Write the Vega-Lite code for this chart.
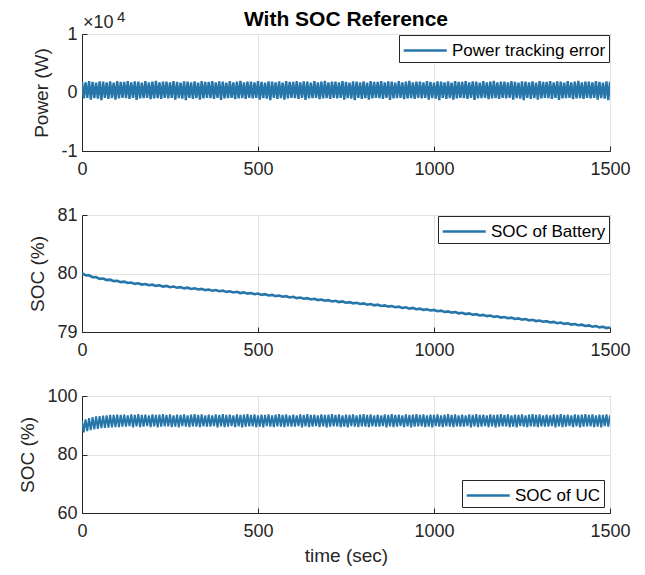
{
"$schema": "https://vega.github.io/schema/vega-lite/v6.json",
"background": "white",
"padding": {"left": 18, "top": 8, "right": 10, "bottom": 5},
"spacing": 64,
"bounds": "flush",
"datasets": {
"power": [{"t":0,"p":1850},{"t":5,"p":-1000},{"t":10,"p":1750},{"t":15,"p":-900},{"t":20,"p":1950},{"t":25,"p":-1200},{"t":30,"p":1800},{"t":35,"p":-950},{"t":40,"p":1700},{"t":45,"p":-1050},{"t":50,"p":1900},{"t":55,"p":-1300},{"t":60,"p":1850},{"t":65,"p":-900},{"t":70,"p":1750},{"t":75,"p":-1100},{"t":80,"p":1900},{"t":85,"p":-950},{"t":90,"p":1700},{"t":95,"p":-1200},{"t":100,"p":1950},{"t":105,"p":-1000},{"t":110,"p":1800},{"t":115,"p":-900},
{"t":120,"p":1800},{"t":125,"p":-950},{"t":130,"p":1950},{"t":135,"p":-1100},{"t":140,"p":1750},{"t":145,"p":-900},{"t":150,"p":1900},{"t":155,"p":-1250},{"t":160,"p":1850},{"t":165,"p":-1000},{"t":170,"p":1700},{"t":175,"p":-950},{"t":180,"p":1950},{"t":185,"p":-900},{"t":190,"p":1750},{"t":195,"p":-1150},{"t":200,"p":1850},{"t":205,"p":-1000},{"t":210,"p":2000},{"t":215,"p":-950},{"t":220,"p":1750},{"t":225,"p":-1100},{"t":230,"p":1850},{"t":235,"p":-900},
{"t":240,"p":1850},{"t":245,"p":-1000},{"t":250,"p":1750},{"t":255,"p":-900},{"t":260,"p":1950},{"t":265,"p":-1200},{"t":270,"p":1800},{"t":275,"p":-950},{"t":280,"p":1700},{"t":285,"p":-1050},{"t":290,"p":1900},{"t":295,"p":-1300},{"t":300,"p":1850},{"t":305,"p":-900},{"t":310,"p":1750},{"t":315,"p":-1100},{"t":320,"p":1900},{"t":325,"p":-950},{"t":330,"p":1700},{"t":335,"p":-1200},{"t":340,"p":1950},{"t":345,"p":-1000},{"t":350,"p":1800},{"t":355,"p":-900},
{"t":360,"p":1800},{"t":365,"p":-950},{"t":370,"p":1950},{"t":375,"p":-1100},{"t":380,"p":1750},{"t":385,"p":-900},{"t":390,"p":1900},{"t":395,"p":-1250},{"t":400,"p":1850},{"t":405,"p":-1000},{"t":410,"p":1700},{"t":415,"p":-950},{"t":420,"p":1950},{"t":425,"p":-900},{"t":430,"p":1750},{"t":435,"p":-1150},{"t":440,"p":1850},{"t":445,"p":-1000},{"t":450,"p":2000},{"t":455,"p":-950},{"t":460,"p":1750},{"t":465,"p":-1100},{"t":470,"p":1850},{"t":475,"p":-900},
{"t":480,"p":1850},{"t":485,"p":-1000},{"t":490,"p":1750},{"t":495,"p":-900},{"t":500,"p":1950},{"t":505,"p":-1200},{"t":510,"p":1800},{"t":515,"p":-950},{"t":520,"p":1700},{"t":525,"p":-1050},{"t":530,"p":1900},{"t":535,"p":-1300},{"t":540,"p":1850},{"t":545,"p":-900},{"t":550,"p":1750},{"t":555,"p":-1100},{"t":560,"p":1900},{"t":565,"p":-950},{"t":570,"p":1700},{"t":575,"p":-1200},{"t":580,"p":1950},{"t":585,"p":-1000},{"t":590,"p":1800},{"t":595,"p":-900},
{"t":600,"p":1800},{"t":605,"p":-950},{"t":610,"p":1950},{"t":615,"p":-1100},{"t":620,"p":1750},{"t":625,"p":-900},{"t":630,"p":1900},{"t":635,"p":-1250},{"t":640,"p":1850},{"t":645,"p":-1000},{"t":650,"p":1700},{"t":655,"p":-950},{"t":660,"p":1950},{"t":665,"p":-900},{"t":670,"p":1750},{"t":675,"p":-1150},{"t":680,"p":1850},{"t":685,"p":-1000},{"t":690,"p":2000},{"t":695,"p":-950},{"t":700,"p":1750},{"t":705,"p":-1100},{"t":710,"p":1850},{"t":715,"p":-900},
{"t":720,"p":1850},{"t":725,"p":-1000},{"t":730,"p":1750},{"t":735,"p":-900},{"t":740,"p":1950},{"t":745,"p":-1200},{"t":750,"p":1800},{"t":755,"p":-950},{"t":760,"p":1700},{"t":765,"p":-1050},{"t":770,"p":1900},{"t":775,"p":-1300},{"t":780,"p":1850},{"t":785,"p":-900},{"t":790,"p":1750},{"t":795,"p":-1100},{"t":800,"p":1900},{"t":805,"p":-950},{"t":810,"p":1700},{"t":815,"p":-1200},{"t":820,"p":1950},{"t":825,"p":-1000},{"t":830,"p":1800},{"t":835,"p":-900},
{"t":840,"p":1800},{"t":845,"p":-950},{"t":850,"p":1950},{"t":855,"p":-1100},{"t":860,"p":1750},{"t":865,"p":-900},{"t":870,"p":1900},{"t":875,"p":-1250},{"t":880,"p":1850},{"t":885,"p":-1000},{"t":890,"p":1700},{"t":895,"p":-950},{"t":900,"p":1950},{"t":905,"p":-900},{"t":910,"p":1750},{"t":915,"p":-1150},{"t":920,"p":1850},{"t":925,"p":-1000},{"t":930,"p":2000},{"t":935,"p":-950},{"t":940,"p":1750},{"t":945,"p":-1100},{"t":950,"p":1850},{"t":955,"p":-900},
{"t":960,"p":1850},{"t":965,"p":-1000},{"t":970,"p":1750},{"t":975,"p":-900},{"t":980,"p":1950},{"t":985,"p":-1200},{"t":990,"p":1800},{"t":995,"p":-950},{"t":1000,"p":1700},{"t":1005,"p":-1050},{"t":1010,"p":1900},{"t":1015,"p":-1300},{"t":1020,"p":1850},{"t":1025,"p":-900},{"t":1030,"p":1750},{"t":1035,"p":-1100},{"t":1040,"p":1900},{"t":1045,"p":-950},{"t":1050,"p":1700},{"t":1055,"p":-1200},{"t":1060,"p":1950},{"t":1065,"p":-1000},{"t":1070,"p":1800},{"t":1075,"p":-900},
{"t":1080,"p":1800},{"t":1085,"p":-950},{"t":1090,"p":1950},{"t":1095,"p":-1100},{"t":1100,"p":1750},{"t":1105,"p":-900},{"t":1110,"p":1900},{"t":1115,"p":-1250},{"t":1120,"p":1850},{"t":1125,"p":-1000},{"t":1130,"p":1700},{"t":1135,"p":-950},{"t":1140,"p":1950},{"t":1145,"p":-900},{"t":1150,"p":1750},{"t":1155,"p":-1150},{"t":1160,"p":1850},{"t":1165,"p":-1000},{"t":1170,"p":2000},{"t":1175,"p":-950},{"t":1180,"p":1750},{"t":1185,"p":-1100},{"t":1190,"p":1850},{"t":1195,"p":-900},
{"t":1200,"p":1850},{"t":1205,"p":-1000},{"t":1210,"p":1750},{"t":1215,"p":-900},{"t":1220,"p":1950},{"t":1225,"p":-1200},{"t":1230,"p":1800},{"t":1235,"p":-950},{"t":1240,"p":1700},{"t":1245,"p":-1050},{"t":1250,"p":1900},{"t":1255,"p":-1300},{"t":1260,"p":1850},{"t":1265,"p":-900},{"t":1270,"p":1750},{"t":1275,"p":-1100},{"t":1280,"p":1900},{"t":1285,"p":-950},{"t":1290,"p":1700},{"t":1295,"p":-1200},{"t":1300,"p":1950},{"t":1305,"p":-1000},{"t":1310,"p":1800},{"t":1315,"p":-900},
{"t":1320,"p":1800},{"t":1325,"p":-950},{"t":1330,"p":1950},{"t":1335,"p":-1100},{"t":1340,"p":1750},{"t":1345,"p":-900},{"t":1350,"p":1900},{"t":1355,"p":-1250},{"t":1360,"p":1850},{"t":1365,"p":-1000},{"t":1370,"p":1700},{"t":1375,"p":-950},{"t":1380,"p":1950},{"t":1385,"p":-900},{"t":1390,"p":1750},{"t":1395,"p":-1150},{"t":1400,"p":1850},{"t":1405,"p":-1000},{"t":1410,"p":2000},{"t":1415,"p":-950},{"t":1420,"p":1750},{"t":1425,"p":-1100},{"t":1430,"p":1850},{"t":1435,"p":-900},
{"t":1440,"p":1850},{"t":1445,"p":-1000},{"t":1450,"p":1750},{"t":1455,"p":-900},{"t":1460,"p":1950},{"t":1465,"p":-1200},{"t":1470,"p":1800},{"t":1475,"p":-950},{"t":1480,"p":1700},{"t":1485,"p":-1050},{"t":1490,"p":1900},{"t":1495,"p":-1300},{"t":1500,"p":1850}],
"batt": [{"t":0,"b":80.008},{"t":10,"b":79.970},{"t":20,"b":79.968},{"t":30,"b":79.937},{"t":40,"b":79.938},{"t":50,"b":79.909},{"t":60,"b":79.914},{"t":70,"b":79.888},{"t":80,"b":79.894},{"t":90,"b":79.869},{"t":100,"b":79.876},{"t":110,"b":79.852},{"t":120,"b":79.860},{"t":130,"b":79.837},{"t":140,"b":79.846},{"t":150,"b":79.823},{"t":160,"b":79.833},{"t":170,"b":79.811},{"t":180,"b":79.821},{"t":190,"b":79.799},{"t":200,"b":79.809},{"t":210,"b":79.788},{"t":220,"b":79.798},{"t":230,"b":79.777},{"t":240,"b":79.787},{"t":250,"b":79.766},{"t":260,"b":79.777},{"t":270,"b":79.756},{"t":280,"b":79.767},{"t":290,"b":79.746},{"t":300,"b":79.757},{"t":310,"b":79.736},{"t":320,"b":79.747},{"t":330,"b":79.726},{"t":340,"b":79.737},{"t":350,"b":79.716},{"t":360,"b":79.727},{"t":370,"b":79.706},{"t":380,"b":79.717},{"t":390,"b":79.696},{"t":400,"b":79.707},{"t":410,"b":79.686},{"t":420,"b":79.697},{"t":430,"b":79.676},{"t":440,"b":79.687},{"t":450,"b":79.666},{"t":460,"b":79.677},{"t":470,"b":79.656},{"t":480,"b":79.667},{"t":490,"b":79.646},{"t":500,"b":79.657},{"t":510,"b":79.635},{"t":520,"b":79.646},{"t":530,"b":79.624},{"t":540,"b":79.635},{"t":550,"b":79.613},{"t":560,"b":79.623},{"t":570,"b":79.602},{"t":580,"b":79.612},{"t":590,"b":79.591},{"t":600,"b":79.601},{"t":610,"b":79.579},{"t":620,"b":79.590},{"t":630,"b":79.568},{"t":640,"b":79.579},{"t":650,"b":79.557},{"t":660,"b":79.567},{"t":670,"b":79.546},{"t":680,"b":79.556},{"t":690,"b":79.535},{"t":700,"b":79.545},{"t":710,"b":79.523},{"t":720,"b":79.534},{"t":730,"b":79.512},{"t":740,"b":79.523},{"t":750,"b":79.501},{"t":760,"b":79.511},{"t":770,"b":79.490},{"t":780,"b":79.500},{"t":790,"b":79.479},{"t":800,"b":79.489},{"t":810,"b":79.467},{"t":820,"b":79.478},{"t":830,"b":79.456},{"t":840,"b":79.467},{"t":850,"b":79.445},{"t":860,"b":79.455},{"t":870,"b":79.434},{"t":880,"b":79.444},{"t":890,"b":79.423},{"t":900,"b":79.433},{"t":910,"b":79.411},{"t":920,"b":79.422},{"t":930,"b":79.400},{"t":940,"b":79.411},{"t":950,"b":79.389},{"t":960,"b":79.399},{"t":970,"b":79.378},{"t":980,"b":79.388},{"t":990,"b":79.367},{"t":1000,"b":79.377},{"t":1010,"b":79.355},{"t":1020,"b":79.365},{"t":1030,"b":79.343},{"t":1040,"b":79.353},{"t":1050,"b":79.331},{"t":1060,"b":79.341},{"t":1070,"b":79.319},{"t":1080,"b":79.329},{"t":1090,"b":79.307},{"t":1100,"b":79.317},{"t":1110,"b":79.295},{"t":1120,"b":79.305},{"t":1130,"b":79.283},{"t":1140,"b":79.293},{"t":1150,"b":79.271},{"t":1160,"b":79.281},{"t":1170,"b":79.259},{"t":1180,"b":79.269},{"t":1190,"b":79.247},{"t":1200,"b":79.257},{"t":1210,"b":79.235},{"t":1220,"b":79.245},{"t":1230,"b":79.223},{"t":1240,"b":79.233},{"t":1250,"b":79.211},{"t":1260,"b":79.221},{"t":1270,"b":79.199},{"t":1280,"b":79.209},{"t":1290,"b":79.187},{"t":1300,"b":79.197},{"t":1310,"b":79.175},{"t":1320,"b":79.185},{"t":1330,"b":79.163},{"t":1340,"b":79.173},{"t":1350,"b":79.151},{"t":1360,"b":79.161},{"t":1370,"b":79.139},{"t":1380,"b":79.149},{"t":1390,"b":79.127},{"t":1400,"b":79.137},{"t":1410,"b":79.115},{"t":1420,"b":79.125},{"t":1430,"b":79.103},{"t":1440,"b":79.113},{"t":1450,"b":79.091},{"t":1460,"b":79.101},{"t":1470,"b":79.079},{"t":1480,"b":79.089},{"t":1490,"b":79.067},{"t":1500,"b":79.077}],
"uc": [{"t":0,"u":91.5},{"t":5,"u":87.6},{"t":10,"u":92.0},{"t":15,"u":88.0},{"t":20,"u":92.4},{"t":25,"u":88.3},{"t":30,"u":92.8},{"t":35,"u":88.6},{"t":40,"u":93.0},{"t":45,"u":88.8},{"t":50,"u":93.1},{"t":55,"u":89.0},{"t":60,"u":93.3},{"t":65,"u":89.1},{"t":70,"u":93.4},{"t":75,"u":89.2},{"t":80,"u":93.5},{"t":85,"u":89.3},{"t":90,"u":93.5},{"t":95,"u":89.4},{"t":100,"u":93.6},{"t":105,"u":89.4},{"t":110,"u":93.5},{"t":115,"u":89.5},
{"t":120,"u":93.6},{"t":125,"u":89.5},{"t":130,"u":93.4},{"t":135,"u":89.7},{"t":140,"u":93.7},{"t":145,"u":89.3},{"t":150,"u":93.5},{"t":155,"u":89.6},{"t":160,"u":93.8},{"t":165,"u":89.4},{"t":170,"u":93.5},{"t":175,"u":89.5},{"t":180,"u":93.6},{"t":185,"u":89.7},{"t":190,"u":93.4},{"t":195,"u":89.4},{"t":200,"u":93.7},{"t":205,"u":89.6},{"t":210,"u":93.5},{"t":215,"u":89.3},{"t":220,"u":93.6},{"t":225,"u":89.5},{"t":230,"u":93.8},{"t":235,"u":89.6},
{"t":240,"u":93.5},{"t":245,"u":89.6},{"t":250,"u":93.7},{"t":255,"u":89.4},{"t":260,"u":93.4},{"t":265,"u":89.5},{"t":270,"u":93.6},{"t":275,"u":89.3},{"t":280,"u":93.5},{"t":285,"u":89.7},{"t":290,"u":93.7},{"t":295,"u":89.5},{"t":300,"u":93.4},{"t":305,"u":89.4},{"t":310,"u":93.6},{"t":315,"u":89.6},{"t":320,"u":93.8},{"t":325,"u":89.5},{"t":330,"u":93.5},{"t":335,"u":89.4},{"t":340,"u":93.7},{"t":345,"u":89.6},{"t":350,"u":93.4},{"t":355,"u":89.5},
{"t":360,"u":93.6},{"t":365,"u":89.5},{"t":370,"u":93.4},{"t":375,"u":89.7},{"t":380,"u":93.7},{"t":385,"u":89.3},{"t":390,"u":93.5},{"t":395,"u":89.6},{"t":400,"u":93.8},{"t":405,"u":89.4},{"t":410,"u":93.5},{"t":415,"u":89.5},{"t":420,"u":93.6},{"t":425,"u":89.7},{"t":430,"u":93.4},{"t":435,"u":89.4},{"t":440,"u":93.7},{"t":445,"u":89.6},{"t":450,"u":93.5},{"t":455,"u":89.3},{"t":460,"u":93.6},{"t":465,"u":89.5},{"t":470,"u":93.8},{"t":475,"u":89.6},
{"t":480,"u":93.5},{"t":485,"u":89.6},{"t":490,"u":93.7},{"t":495,"u":89.4},{"t":500,"u":93.4},{"t":505,"u":89.5},{"t":510,"u":93.6},{"t":515,"u":89.3},{"t":520,"u":93.5},{"t":525,"u":89.7},{"t":530,"u":93.7},{"t":535,"u":89.5},{"t":540,"u":93.4},{"t":545,"u":89.4},{"t":550,"u":93.6},{"t":555,"u":89.6},{"t":560,"u":93.8},{"t":565,"u":89.5},{"t":570,"u":93.5},{"t":575,"u":89.4},{"t":580,"u":93.7},{"t":585,"u":89.6},{"t":590,"u":93.4},{"t":595,"u":89.5},
{"t":600,"u":93.6},{"t":605,"u":89.5},{"t":610,"u":93.4},{"t":615,"u":89.7},{"t":620,"u":93.7},{"t":625,"u":89.3},{"t":630,"u":93.5},{"t":635,"u":89.6},{"t":640,"u":93.8},{"t":645,"u":89.4},{"t":650,"u":93.5},{"t":655,"u":89.5},{"t":660,"u":93.6},{"t":665,"u":89.7},{"t":670,"u":93.4},{"t":675,"u":89.4},{"t":680,"u":93.7},{"t":685,"u":89.6},{"t":690,"u":93.5},{"t":695,"u":89.3},{"t":700,"u":93.6},{"t":705,"u":89.5},{"t":710,"u":93.8},{"t":715,"u":89.6},
{"t":720,"u":93.5},{"t":725,"u":89.6},{"t":730,"u":93.7},{"t":735,"u":89.4},{"t":740,"u":93.4},{"t":745,"u":89.5},{"t":750,"u":93.6},{"t":755,"u":89.3},{"t":760,"u":93.5},{"t":765,"u":89.7},{"t":770,"u":93.7},{"t":775,"u":89.5},{"t":780,"u":93.4},{"t":785,"u":89.4},{"t":790,"u":93.6},{"t":795,"u":89.6},{"t":800,"u":93.8},{"t":805,"u":89.5},{"t":810,"u":93.5},{"t":815,"u":89.4},{"t":820,"u":93.7},{"t":825,"u":89.6},{"t":830,"u":93.4},{"t":835,"u":89.5},
{"t":840,"u":93.6},{"t":845,"u":89.5},{"t":850,"u":93.4},{"t":855,"u":89.7},{"t":860,"u":93.7},{"t":865,"u":89.3},{"t":870,"u":93.5},{"t":875,"u":89.6},{"t":880,"u":93.8},{"t":885,"u":89.4},{"t":890,"u":93.5},{"t":895,"u":89.5},{"t":900,"u":93.6},{"t":905,"u":89.7},{"t":910,"u":93.4},{"t":915,"u":89.4},{"t":920,"u":93.7},{"t":925,"u":89.6},{"t":930,"u":93.5},{"t":935,"u":89.3},{"t":940,"u":93.6},{"t":945,"u":89.5},{"t":950,"u":93.8},{"t":955,"u":89.6},
{"t":960,"u":93.5},{"t":965,"u":89.6},{"t":970,"u":93.7},{"t":975,"u":89.4},{"t":980,"u":93.4},{"t":985,"u":89.5},{"t":990,"u":93.6},{"t":995,"u":89.3},{"t":1000,"u":93.5},{"t":1005,"u":89.7},{"t":1010,"u":93.7},{"t":1015,"u":89.5},{"t":1020,"u":93.4},{"t":1025,"u":89.4},{"t":1030,"u":93.6},{"t":1035,"u":89.6},{"t":1040,"u":93.8},{"t":1045,"u":89.5},{"t":1050,"u":93.5},{"t":1055,"u":89.4},{"t":1060,"u":93.7},{"t":1065,"u":89.6},{"t":1070,"u":93.4},{"t":1075,"u":89.5},
{"t":1080,"u":93.6},{"t":1085,"u":89.5},{"t":1090,"u":93.4},{"t":1095,"u":89.7},{"t":1100,"u":93.7},{"t":1105,"u":89.3},{"t":1110,"u":93.5},{"t":1115,"u":89.6},{"t":1120,"u":93.8},{"t":1125,"u":89.4},{"t":1130,"u":93.5},{"t":1135,"u":89.5},{"t":1140,"u":93.6},{"t":1145,"u":89.7},{"t":1150,"u":93.4},{"t":1155,"u":89.4},{"t":1160,"u":93.7},{"t":1165,"u":89.6},{"t":1170,"u":93.5},{"t":1175,"u":89.3},{"t":1180,"u":93.6},{"t":1185,"u":89.5},{"t":1190,"u":93.8},{"t":1195,"u":89.6},
{"t":1200,"u":93.5},{"t":1205,"u":89.6},{"t":1210,"u":93.7},{"t":1215,"u":89.4},{"t":1220,"u":93.4},{"t":1225,"u":89.5},{"t":1230,"u":93.6},{"t":1235,"u":89.3},{"t":1240,"u":93.5},{"t":1245,"u":89.7},{"t":1250,"u":93.7},{"t":1255,"u":89.5},{"t":1260,"u":93.4},{"t":1265,"u":89.4},{"t":1270,"u":93.6},{"t":1275,"u":89.6},{"t":1280,"u":93.8},{"t":1285,"u":89.5},{"t":1290,"u":93.5},{"t":1295,"u":89.4},{"t":1300,"u":93.7},{"t":1305,"u":89.6},{"t":1310,"u":93.4},{"t":1315,"u":89.5},
{"t":1320,"u":93.6},{"t":1325,"u":89.5},{"t":1330,"u":93.4},{"t":1335,"u":89.7},{"t":1340,"u":93.7},{"t":1345,"u":89.3},{"t":1350,"u":93.5},{"t":1355,"u":89.6},{"t":1360,"u":93.8},{"t":1365,"u":89.4},{"t":1370,"u":93.5},{"t":1375,"u":89.5},{"t":1380,"u":93.6},{"t":1385,"u":89.7},{"t":1390,"u":93.4},{"t":1395,"u":89.4},{"t":1400,"u":93.7},{"t":1405,"u":89.6},{"t":1410,"u":93.5},{"t":1415,"u":89.3},{"t":1420,"u":93.6},{"t":1425,"u":89.5},{"t":1430,"u":93.8},{"t":1435,"u":89.6},
{"t":1440,"u":93.5},{"t":1445,"u":89.6},{"t":1450,"u":93.7},{"t":1455,"u":89.4},{"t":1460,"u":93.4},{"t":1465,"u":89.5},{"t":1470,"u":93.6},{"t":1475,"u":89.3},{"t":1480,"u":93.5},{"t":1485,"u":89.7},{"t":1490,"u":93.7},{"t":1495,"u":89.5},{"t":1500,"u":93.4}]
},
"vconcat": [
{
"width": 528, "height": 117,
"title": {"text": "With SOC Reference", "fontSize": 21, "fontWeight": "bold", "font": "Liberation Sans", "color": "#000000", "anchor": "middle", "offset": -20},
"layer": [
{"data": {"name": "power"}, "mark": {"type": "line", "strokeWidth": 2.4, "clip": true},
"encoding": {
"x": {"field": "t", "type": "quantitative", "scale": {"domain": [0, 1500], "nice": false}, "axis": {"values": [0, 500, 1000, 1500], "format": "d", "title": null}},
"y": {"field": "p", "type": "quantitative", "scale": {"domain": [-10000, 10000], "nice": false}, "axis": {"values": [-10000, 0, 10000], "labelExpr": "'' + (datum.value / 10000)", "title": "Power (W)"}},
"color": {"datum": "Power tracking error", "scale": {"range": ["#2676aa"]}, "legend": {"orient": "top-right", "offset": 1}}
}},
{"data": {"values": [{}]}, "mark": {"type": "text", "text": "×10", "align": "left", "baseline": "alphabetic", "font": "Liberation Sans", "fontSize": 18, "dx": 1, "dy": -6, "color": "#262626"},
"encoding": {"x": {"datum": 0, "type": "quantitative"}, "y": {"datum": 10000, "type": "quantitative"}}},
{"data": {"values": [{}]}, "mark": {"type": "text", "text": "4", "align": "left", "baseline": "alphabetic", "font": "Liberation Sans", "fontSize": 15, "dx": 35, "dy": -12, "color": "#262626"},
"encoding": {"x": {"datum": 0, "type": "quantitative"}, "y": {"datum": 10000, "type": "quantitative"}}}
]
},
{
"width": 528, "height": 117,
"data": {"name": "batt"},
"mark": {"type": "line", "strokeWidth": 2.6, "clip": true},
"encoding": {
"x": {"field": "t", "type": "quantitative", "scale": {"domain": [0, 1500], "nice": false}, "axis": {"values": [0, 500, 1000, 1500], "format": "d", "title": null}},
"y": {"field": "b", "type": "quantitative", "scale": {"domain": [79, 81], "nice": false, "zero": false}, "axis": {"values": [79, 80, 81], "labelExpr": "'' + datum.value", "title": "SOC (%)"}},
"color": {"datum": "SOC of Battery", "scale": {"range": ["#2676aa"]}, "legend": {"orient": "top-right", "offset": 1}}
}
},
{
"width": 528, "height": 117,
"data": {"name": "uc"},
"mark": {"type": "line", "strokeWidth": 2, "clip": true},
"encoding": {
"x": {"field": "t", "type": "quantitative", "scale": {"domain": [0, 1500], "nice": false}, "axis": {"values": [0, 500, 1000, 1500], "format": "d", "title": "time (sec)", "titlePadding": 6}},
"y": {"field": "u", "type": "quantitative", "scale": {"domain": [60, 100], "nice": false, "zero": false}, "axis": {"values": [60, 80, 100], "format": "d", "title": "SOC (%)"}},
"color": {"datum": "SOC of UC", "scale": {"range": ["#2676aa"]}, "legend": {"orient": "bottom-right", "offset": 6}}
}
}
],
"resolve": {"scale": {"color": "independent", "x": "independent", "y": "independent"}, "legend": {"color": "independent"}},
"config": {
"font": "Liberation Sans",
"view": {"stroke": "#262626", "strokeWidth": 1},
"axis": {"labelFont": "Liberation Sans", "labelFontSize": 18, "labelColor": "#262626", "titleFont": "Liberation Sans", "titleFontSize": 19, "titleFontWeight": "normal", "titleColor": "#262626", "domainColor": "#262626", "tickColor": "#262626", "tickSize": -5, "gridColor": "#e3e3e3", "gridWidth": 1, "labelFlush": false, "labelOverlap": false},
"axisX": {"labelPadding": 14},
"axisY": {"labelPadding": 10, "titlePadding": 9},
"legend": {"title": null, "strokeColor": "#262626", "fillColor": "white", "padding": 3, "symbolType": "M-1,0H3", "symbolSize": 462, "symbolStrokeWidth": 2.6, "labelFont": "Liberation Sans", "labelFontSize": 17, "labelColor": "#000000", "labelOffset": 25, "cornerRadius": 0}
}
}
